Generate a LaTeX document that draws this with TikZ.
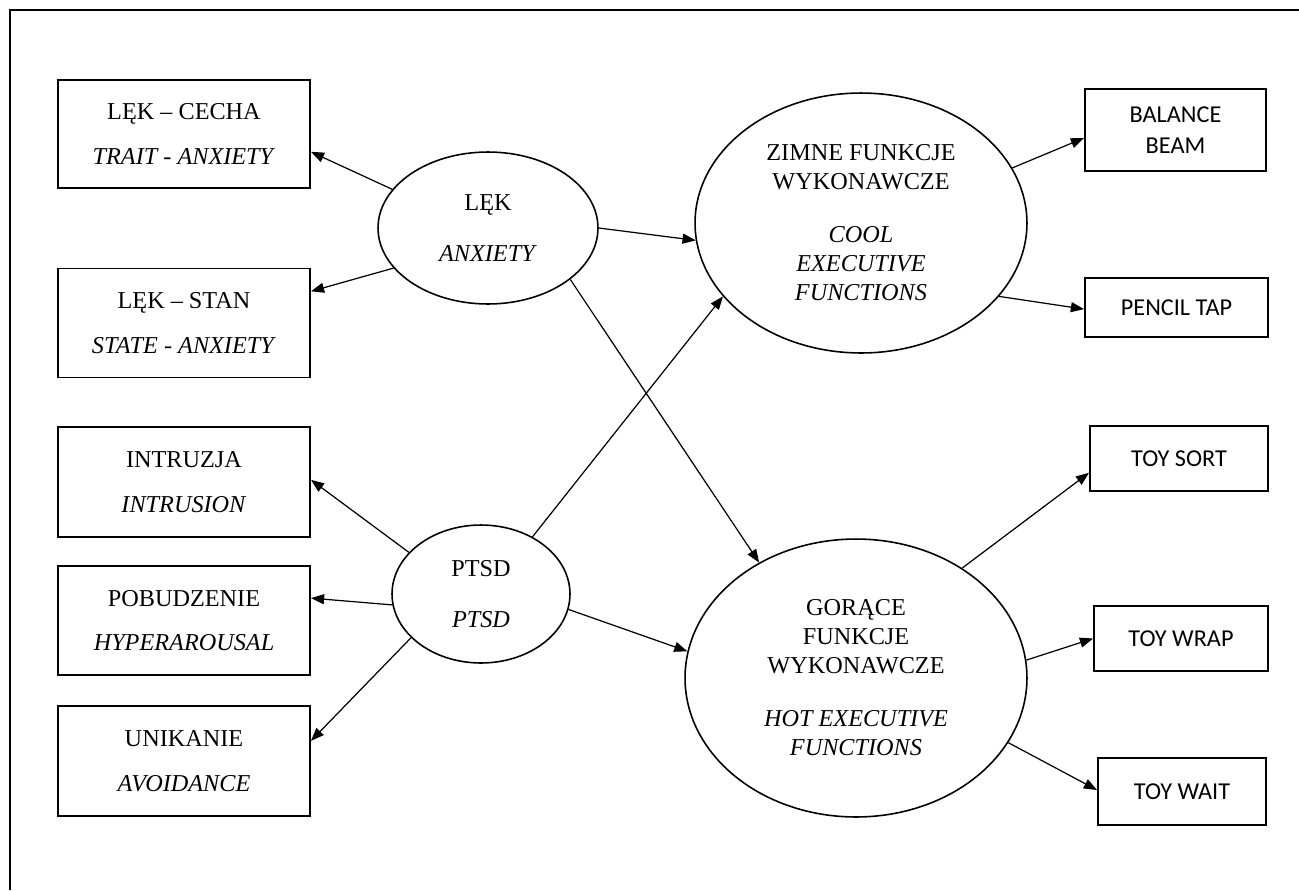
\documentclass[tikz,border=0pt]{standalone}
\usepackage{fontspec}
\setmainfont{Liberation Serif}
\newfontfamily\calib{Carlito}
\usetikzlibrary{shapes.geometric,arrows.meta}
\begin{document}
\begin{tikzpicture}[x=0.02cm,y=-0.02cm,
  lbox/.style={draw, line width=1.1pt, minimum width=5.04cm, align=center, inner sep=0pt,
    font=\fontsize{13.8}{16.5}\selectfont},
  rbox/.style={draw, line width=1.1pt, align=center, inner sep=0pt,
    font=\calib\fontsize{13.8}{17.6}\selectfont},
  ell/.style={draw, ellipse, line width=0.9pt, inner sep=0pt, align=center,
    font=\fontsize{13.8}{16.5}\selectfont},
  arr/.style={-{Triangle[length=7.5pt,width=5.7pt]}, line width=0.7pt}]
\useasboundingbox (0,0) rectangle (1299,890);
\draw[line width=0.9pt] (1299,10) -- (10,10) -- (10,890);
% left boxes
\node[lbox, minimum height=2.16cm] (trait) at (184,134) {LĘK – CECHA\\[9pt]\textit{TRAIT - ANXIETY}};
\node[lbox, minimum height=2.18cm] (state) at (184,323) {LĘK – STAN\\[9pt]\textit{STATE - ANXIETY}};
\node[lbox, minimum height=2.2cm] (intr) at (184,482) {INTRUZJA\\[9pt]\textit{INTRUSION}};
\node[lbox, minimum height=2.18cm] (pob) at (184,620.5) {POBUDZENIE\\[9pt]\textit{HYPERAROUSAL}};
\node[lbox, minimum height=2.2cm] (unik) at (184,761) {UNIKANIE\\[9pt]\textit{AVOIDANCE}};
% ellipses
\node[ell, minimum width=4.4cm, minimum height=3.04cm] (lek) at (488,228) {LĘK\\[12.5pt]\textit{ANXIETY}};
\node[ell, minimum width=3.56cm, minimum height=2.76cm] (ptsd) at (481,594) {PTSD\\[13pt]\textit{PTSD}};
\node[ell, minimum width=6.64cm, minimum height=5.2cm] (cool) at (861,223)
  {ZIMNE FUNKCJE\\WYKONAWCZE\\[13.7pt]\textit{COOL}\\\textit{EXECUTIVE}\\\textit{FUNCTIONS}};
\node[ell, minimum width=6.84cm, minimum height=5.56cm] (hot) at (856,678)
  {GORĄCE\\FUNKCJE\\WYKONAWCZE\\[13.7pt]\textit{HOT EXECUTIVE}\\\textit{FUNCTIONS}};
% right boxes
\node[rbox, minimum width=3.62cm, minimum height=1.64cm] (balance) at (1175.5,130) {BALANCE\\BEAM};
\node[rbox, minimum width=3.66cm, minimum height=1.18cm] (pencil) at (1176.5,307.5) {PENCIL TAP};
\node[rbox, minimum width=3.56cm, minimum height=1.3cm] (toysort) at (1179,458.5) {TOY SORT};
\node[rbox, minimum width=3.48cm, minimum height=1.3cm] (toywrap) at (1181,638.5) {TOY WRAP};
\node[rbox, minimum width=3.36cm, minimum height=1.34cm] (toywait) at (1182,791.5) {TOY WAIT};
% connectors
\draw[arr] (lek.158.8) -- (trait.-8);
\draw[arr] (lek.-157.8) -- (state.14);
\draw[arr] (lek.0) -- (cool.-174.8);
\draw[arr] (lek.-32.4) -- (hot.130.6);
\draw[arr] (ptsd.48.6) -- (cool.-152);
\draw[arr] (ptsd.150) -- (intr.1);
\draw[arr] (ptsd.-173) -- (pob.10.6);
\draw[arr] (ptsd.-148.4) -- (unik.9.5);
\draw[arr] (ptsd.-10.4) -- (hot.171.7);
\draw[arr] (cool.20) -- (balance.185);
\draw[arr] (cool.-28) -- (pencil.181.6);
\draw[arr] (hot.46) -- (toysort.-171.4);
\draw[arr] (hot.6.7) -- (toywrap.180);
\draw[arr] (hot.-23.9) -- (toywait.179);
\end{tikzpicture}
\end{document}
